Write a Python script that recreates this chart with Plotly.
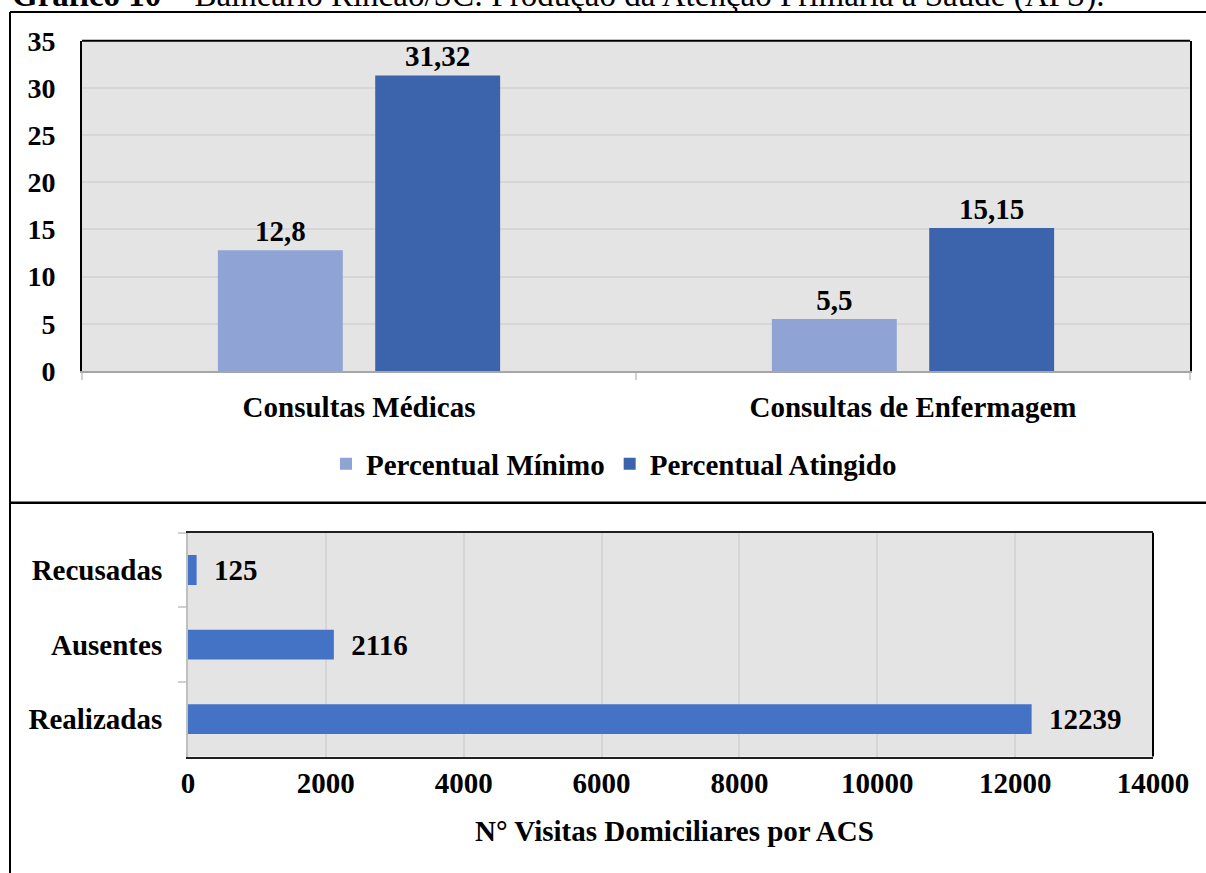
import plotly.graph_objects as go

# ---------------- data ----------------
categories = ["Consultas Médicas", "Consultas de Enfermagem"]
series_names = ["Percentual Mínimo", "Percentual Atingido"]
percentual_minimo = [12.8, 5.5]
percentual_atingido = [31.32, 15.15]

visit_categories = ["Realizadas", "Ausentes", "Recusadas"]
visit_values = [12239, 2116, 125]

y_ticks_top = [0, 5, 10, 15, 20, 25, 30, 35]
x_ticks_bottom = [0, 2000, 4000, 6000, 8000, 10000, 12000, 14000]

title_bold = "Gráfico 10"
title_rest = " – Balneário Rincão/SC: Produção da Atenção Primária à Saúde (APS)."
bottom_axis_title = "N° Visitas Domiciliares por ACS"

# ---------------- styling ----------------
W, H = 1206, 873
FONT = "Liberation Serif"
C_LIGHT = "#8FA3D5"
C_DARK = "#3B64AD"
C_HBAR = "#4472C4"
BG = "#E4E4E4"
GRID = "#D6D6D6"


def fx(p):
    return p / W


def fy(p):
    return 1 - p / H


def fmt(v):
    return f"{v}".replace(".", ",")


bold = dict(family=FONT, size=29, color="black", weight="bold")

fig = go.Figure()
fig.add_trace(go.Bar(
    x=categories, y=percentual_minimo, name=series_names[0],
    marker=dict(color=C_LIGHT, line=dict(width=0)),
    text=[fmt(v) for v in percentual_minimo], textposition="outside",
    textfont=bold, constraintext="none", cliponaxis=False,
    xaxis="x", yaxis="y"))
fig.add_trace(go.Bar(
    x=categories, y=percentual_atingido, name=series_names[1],
    marker=dict(color=C_DARK, line=dict(width=0)),
    text=[fmt(v) for v in percentual_atingido], textposition="outside",
    textfont=bold, constraintext="none", cliponaxis=False,
    xaxis="x", yaxis="y"))
fig.add_trace(go.Bar(
    x=visit_values, y=visit_categories, orientation="h", showlegend=False,
    marker=dict(color=C_HBAR, line=dict(width=0)), width=0.4,
    text=["\u00a0\u00a0" + str(v) for v in visit_values], textposition="outside",
    textfont=bold, constraintext="none", cliponaxis=False,
    xaxis="x2", yaxis="y2"))

shapes = [
    # outer frame
    dict(type="line", xref="paper", yref="paper", x0=fx(10), x1=fx(1206), y0=fy(12), y1=fy(12),
         line=dict(color="black", width=2)),
    dict(type="line", xref="paper", yref="paper", x0=fx(10), x1=fx(10), y0=fy(12), y1=fy(873),
         line=dict(color="black", width=2)),
    dict(type="line", xref="paper", yref="paper", x0=fx(10), x1=fx(1206), y0=fy(502.7), y1=fy(502.7),
         line=dict(color="black", width=2.5)),
    # top plot top border
    dict(type="line", xref="x domain", yref="y domain", x0=0, x1=1, y0=1, y1=1,
         line=dict(color="black", width=2)),
    # bottom plot right border
    dict(type="line", xref="x2 domain", yref="y2 domain", x0=1, x1=1, y0=0, y1=1,
         line=dict(color="black", width=2)),
]

annotations = [
    dict(text=f"<b>{title_bold}</b>{title_rest}", xref="paper", yref="paper",
         x=fx(10), y=fy(-5), xanchor="left", yanchor="middle", showarrow=False,
         font=dict(family=FONT, size=33, color="black")),
    dict(text=bottom_axis_title, xref="paper", yref="paper",
         x=fx(674), y=fy(831), xanchor="center", yanchor="middle", showarrow=False,
         font=bold),
]

fig.update_layout(
    width=W, height=H, template="none",
    margin=dict(l=0, r=0, t=0, b=0, autoexpand=False),
    paper_bgcolor="white", plot_bgcolor=BG,
    barmode="group", bargap=0.432, bargroupgap=0.206,
    showlegend=True,
    legend=dict(orientation="h", x=fx(614), y=fy(464), xanchor="center", yanchor="middle",
                font=bold, bgcolor="rgba(0,0,0,0)", itemwidth=30, tracegroupgap=0),
    xaxis=dict(domain=[fx(82), fx(1190)], anchor="y", type="category",
               tickson="boundaries", ticks="outside", ticklen=7, tickwidth=2, tickcolor="#D0D0D0",
               showline=True, linecolor="#A6A6A6", linewidth=2, showgrid=False,
               tickfont=bold, ticklabelstandoff=9, zeroline=False),
    yaxis=dict(domain=[fy(371), fy(40.7)], anchor="x", range=[0, 35], tickvals=y_ticks_top,
               ticks="", showgrid=True, gridcolor=GRID, gridwidth=2,
               showline=True, linecolor="black", linewidth=2, mirror=True,
               zeroline=False, tickfont=dict(family=FONT, size=28, color="black", weight="bold"),
               ticklabelstandoff=19),
    xaxis2=dict(domain=[fx(188), fx(1153)], anchor="y2", range=[0, 14000], tickvals=x_ticks_bottom,
                tickformat="d",
                ticks="", showgrid=True, gridcolor=GRID, gridwidth=1.5,
                showline=True, linecolor="#202020", linewidth=2, mirror=True,
                zeroline=False, tickfont=bold, ticklabelstandoff=0),
    yaxis2=dict(domain=[fy(756.5), fy(532.7)], anchor="x2", type="category",
                categoryorder="array", categoryarray=visit_categories,
                tickson="boundaries", ticks="outside", ticklen=8, tickwidth=2, tickcolor="#D0D0D0",
                showline=True, linecolor="#BFBFBF", linewidth=2, showgrid=False,
                tickfont=bold, ticklabelstandoff=18),
    shapes=shapes, annotations=annotations,
)

fig.write_html("out.html")
